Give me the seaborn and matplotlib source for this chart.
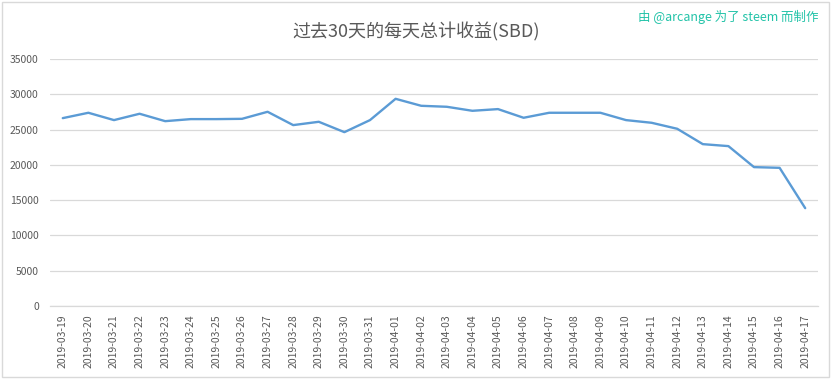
import pandas as pd
import matplotlib
matplotlib.use('Agg')
import matplotlib.pyplot as plt
from matplotlib.patches import Rectangle
import seaborn as sns

# Dados
datas = ['2019-03-19', '2019-03-20', '2019-03-21', '2019-03-22', '2019-03-23',
         '2019-03-24', '2019-03-25', '2019-03-26', '2019-03-27', '2019-03-28',
         '2019-03-29', '2019-03-30', '2019-03-31', '2019-04-01', '2019-04-02',
         '2019-04-03', '2019-04-04', '2019-04-05', '2019-04-06', '2019-04-07',
         '2019-04-08', '2019-04-09', '2019-04-10', '2019-04-11', '2019-04-12',
         '2019-04-13', '2019-04-14', '2019-04-15', '2019-04-16', '2019-04-17']
receita_sbd = [26630, 27390, 26350, 27250, 26200,
               26490, 26490, 26530, 27530, 25640,
               26110, 24640, 26350, 29370, 28380,
               28240, 27670, 27910, 26680, 27390,
               27390, 27390, 26350, 25970, 25120,
               22940, 22660, 19680, 19580, 13860]
yticks = [0, 5000, 10000, 15000, 20000, 25000, 30000, 35000]

titulo = '过去30天的每天总计收益(SBD)'
marca = '由 @arcange 为了 steem 而制作'

sns.set_style('white')
plt.rcParams['font.family'] = ['Noto Sans CJK SC', 'DejaVu Sans']

df = pd.DataFrame({'data': datas, 'sbd': receita_sbd})

fig = plt.figure(figsize=(8.33, 3.79), dpi=100)
ax = fig.add_axes([0.060, 0.193, 0.922, 0.651])

sns.lineplot(x='data', y='sbd', data=df, ax=ax, color='#5B9BD5', linewidth=1.7)

ax.set_xlim(-0.5, len(datas) - 0.5)
ax.set_ylim(0, 35000)
ax.set_yticks(yticks)
ax.set_yticklabels([str(v) for v in yticks])
ax.set_xticks(range(len(datas)))
ax.set_xticklabels(datas, rotation=90)
ax.tick_params(axis='both', length=0, labelsize=7.5, colors='#595959')
ax.tick_params(axis='x', pad=6)
ax.tick_params(axis='y', pad=8)
ax.yaxis.grid(True, color='#D9D9D9', linewidth=0.9)
ax.set_axisbelow(True)
for lado in ['top', 'right', 'left']:
    ax.spines[lado].set_visible(False)
ax.spines['bottom'].set_color('#D9D9D9')
ax.spines['bottom'].set_linewidth(0.9)
ax.set_xlabel('')
ax.set_ylabel('')

fig.text(0.5, 0.915, titulo, ha='center', va='center', fontsize=13, color='#595959')
fig.text(0.982, 0.955, marca, ha='right', va='center', fontsize=9, color='#22C3A8')

# Borda do gráfico
fig.patches.append(Rectangle((0.003, 0.005), 0.992, 0.99, transform=fig.transFigure,
                             fill=False, edgecolor='#D9D9D9', linewidth=1))

fig.savefig('out.png', dpi=100)
